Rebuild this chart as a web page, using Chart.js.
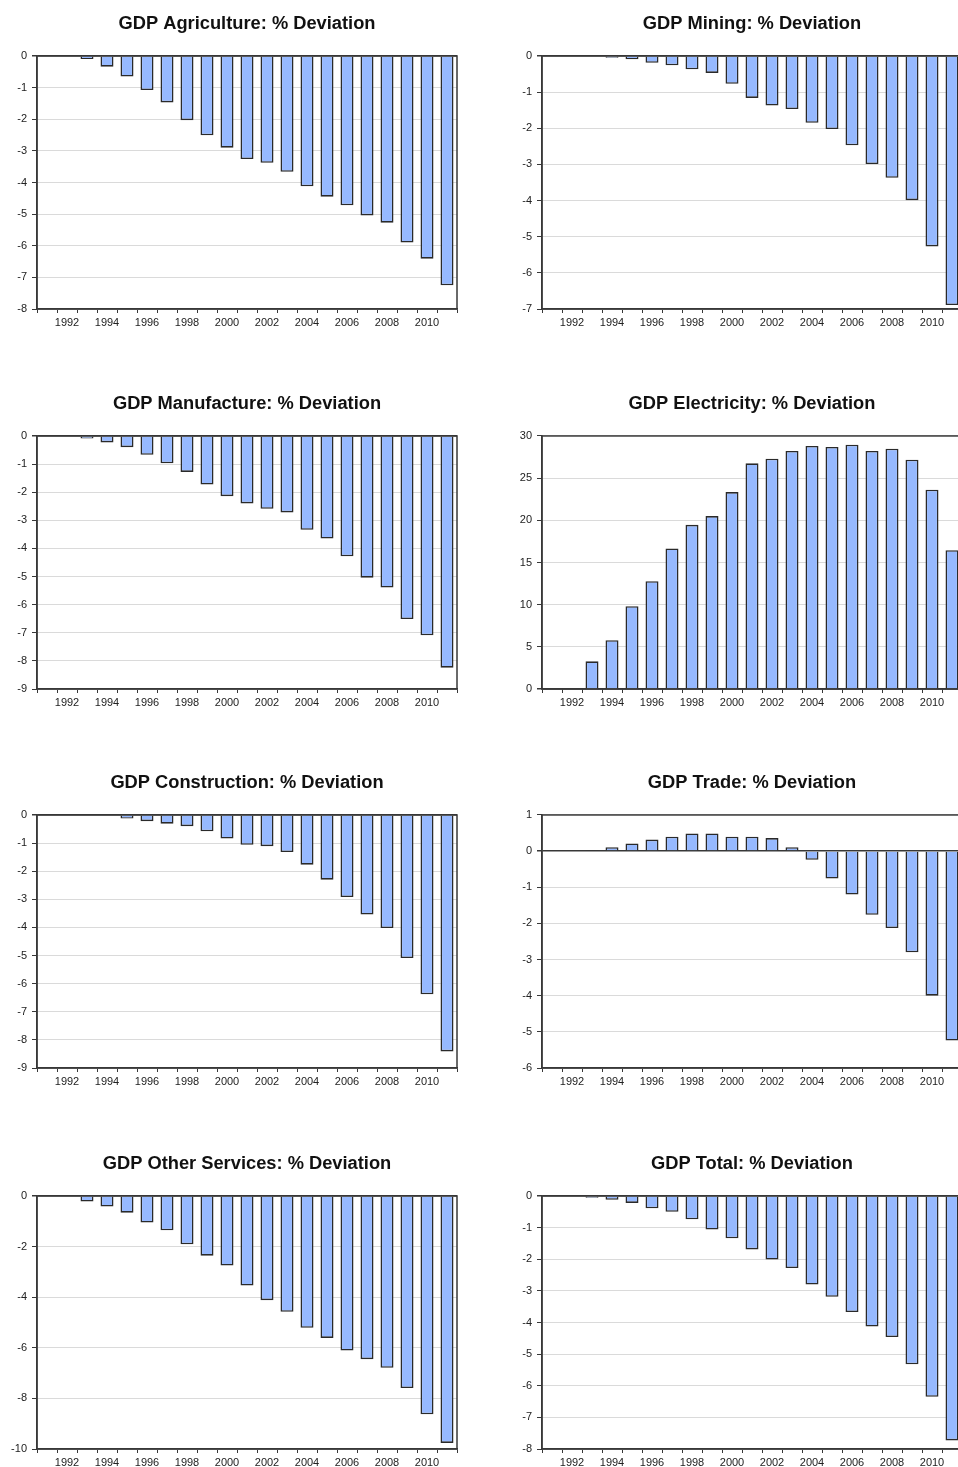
<!DOCTYPE html>
<html>
<head>
<meta charset="utf-8">
<script src="https://cdn.jsdelivr.net/npm/chart.js@4.4.1/dist/chart.umd.min.js"></script>
<style>
  html, body { margin: 0; padding: 0; background: #fff; }
  #page { position: relative; width: 958px; height: 1467px; overflow: hidden; }
  #page canvas { position: absolute; }
</style>
</head>
<body>
<div id="page"></div>
<script>
const years = ['1991','1992','1993','1994','1995','1996','1997','1998','1999','2000',
               '2001','2002','2003','2004','2005','2006','2007','2008','2009','2010','2011'];

// % deviation per year
const agriculture = [null, null, -0.10, -0.34, -0.65, -1.08, -1.47, -2.03, -2.51, -2.90,
                     -3.26, -3.38, -3.66, -4.12, -4.45, -4.72, -5.04, -5.27, -5.90, -6.41, -7.25];
const mining = [null, null, null, -0.05, -0.09, -0.19, -0.26, -0.37, -0.47, -0.77,
                -1.16, -1.37, -1.47, -1.85, -2.02, -2.47, -2.99, -3.37, -3.99, -5.27, -6.89];
const manufacture = [null, null, -0.09, -0.23, -0.40, -0.67, -0.97, -1.28, -1.73, -2.14,
                     -2.40, -2.59, -2.72, -3.34, -3.65, -4.28, -5.04, -5.39, -6.51, -7.09, -8.24];
const electricity = [null, null, 3.28, 5.78, 9.81, 12.78, 16.66, 19.47, 20.50, 23.35,
                     26.75, 27.30, 28.22, 28.81, 28.69, 28.97, 28.22, 28.49, 27.19, 23.62, 16.46];
const construction = [null, null, null, null, -0.13, -0.22, -0.31, -0.40, -0.58, -0.84,
                      -1.06, -1.11, -1.32, -1.77, -2.30, -2.92, -3.54, -4.02, -5.09, -6.38, -8.41];
const trade = [null, null, 0.03, 0.11, 0.21, 0.32, 0.40, 0.49, 0.49, 0.40,
               0.40, 0.36, 0.11, -0.24, -0.76, -1.20, -1.76, -2.13, -2.80, -4.00, -5.24];
const otherServices = [null, null, -0.22, -0.42, -0.66, -1.05, -1.36, -1.91, -2.36, -2.75,
                       -3.54, -4.12, -4.58, -5.21, -5.61, -6.11, -6.45, -6.79, -7.59, -8.63, -9.76];
const total = [null, null, -0.06, -0.12, -0.22, -0.39, -0.50, -0.74, -1.06, -1.34,
               -1.69, -2.01, -2.28, -2.80, -3.19, -3.67, -4.13, -4.46, -5.32, -6.35, -7.73];

const panels = [
  { title: 'GDP Agriculture: % Deviation',   values: agriculture,   min: -8,  max: 0,  step: 1 },
  { title: 'GDP Mining: % Deviation',        values: mining,        min: -7,  max: 0,  step: 1 },
  { title: 'GDP Manufacture: % Deviation',   values: manufacture,   min: -9,  max: 0,  step: 1 },
  { title: 'GDP Electricity: % Deviation',   values: electricity,   min: 0,   max: 30, step: 5 },
  { title: 'GDP Construction: % Deviation',  values: construction,  min: -9,  max: 0,  step: 1 },
  { title: 'GDP Trade: % Deviation',         values: trade,         min: -6,  max: 1,  step: 1 },
  { title: 'GDP Other Services: % Deviation', values: otherServices, min: -10, max: 0, step: 2 },
  { title: 'GDP Total: % Deviation',         values: total,         min: -8,  max: 0,  step: 1 }
];

const colLeft = [0, 505];
const rowTop = [0, 380, 759, 1140];
const dark = '#383838';
const tickFont = { family: "'Liberation Sans', Arial, sans-serif", size: 11 };

// box round the plot area
const frame = {
  id: 'frame',
  beforeDatasetsDraw(chart) {
    const a = chart.chartArea;
    const c = chart.ctx;
    c.save();
    c.strokeStyle = dark;
    c.lineWidth = 1.5;
    c.strokeRect(a.left, a.top, a.right - a.left, a.bottom - a.top);
    c.restore();
  }
};

const page = document.getElementById('page');

panels.forEach((p, i) => {
  const canvas = document.createElement('canvas');
  canvas.width = 494;
  canvas.height = 340;
  canvas.style.left = colLeft[i % 2] + 'px';
  canvas.style.top = rowTop[Math.floor(i / 2)] + 'px';
  page.appendChild(canvas);

  new Chart(canvas.getContext('2d'), {
    type: 'bar',
    data: {
      labels: years,
      datasets: [{
        data: p.values,
        backgroundColor: '#96B9FF',
        borderColor: '#2a2a2a',
        borderWidth: 1.6,
        barPercentage: 0.65,
        categoryPercentage: 1
      }]
    },
    options: {
      responsive: false,
      animation: false,
      layout: { padding: 0 },
      plugins: {
        legend: { display: false },
        tooltip: { enabled: false },
        title: {
          display: true,
          text: p.title,
          color: '#111',
          font: { family: "'Liberation Sans', Arial, sans-serif", size: 18.3, weight: 'bold', lineHeight: 1.2 },
          padding: { top: 13, bottom: 21 }
        }
      },
      scales: {
        x: {
          grid: { offset: true, drawOnChartArea: false, tickLength: 4, tickColor: dark },
          border: { color: dark, width: 1.5 },
          ticks: {
            autoSkip: false,
            maxRotation: 0,
            minRotation: 0,
            color: '#222',
            font: tickFont,
            callback: (v, idx) => (Number(years[idx]) % 2 === 0 ? years[idx] : '')
          },
          afterFit(scale) { scale.height = 31; }
        },
        y: {
          min: p.min,
          max: p.max,
          ticks: { stepSize: p.step, color: '#222', font: tickFont, padding: 5 },
          grid: {
            color: ctx => (ctx.tick && ctx.tick.value === 0 ? dark : '#dadada'),
            lineWidth: ctx => (ctx.tick && ctx.tick.value === 0 ? 1.5 : 1),
            tickLength: 5,
            tickColor: dark
          },
          border: { color: dark, width: 1.5 },
          afterFit(scale) { scale.width = 37; }
        },
        // empty right-hand spacer so the title centres over the plot
        yRight: {
          position: 'right',
          min: p.min,
          max: p.max,
          grid: { display: false },
          border: { display: false },
          ticks: { display: false },
          afterFit(scale) { scale.width = 37; }
        }
      }
    },
    plugins: [frame]
  });
});
</script>
</body>
</html>
